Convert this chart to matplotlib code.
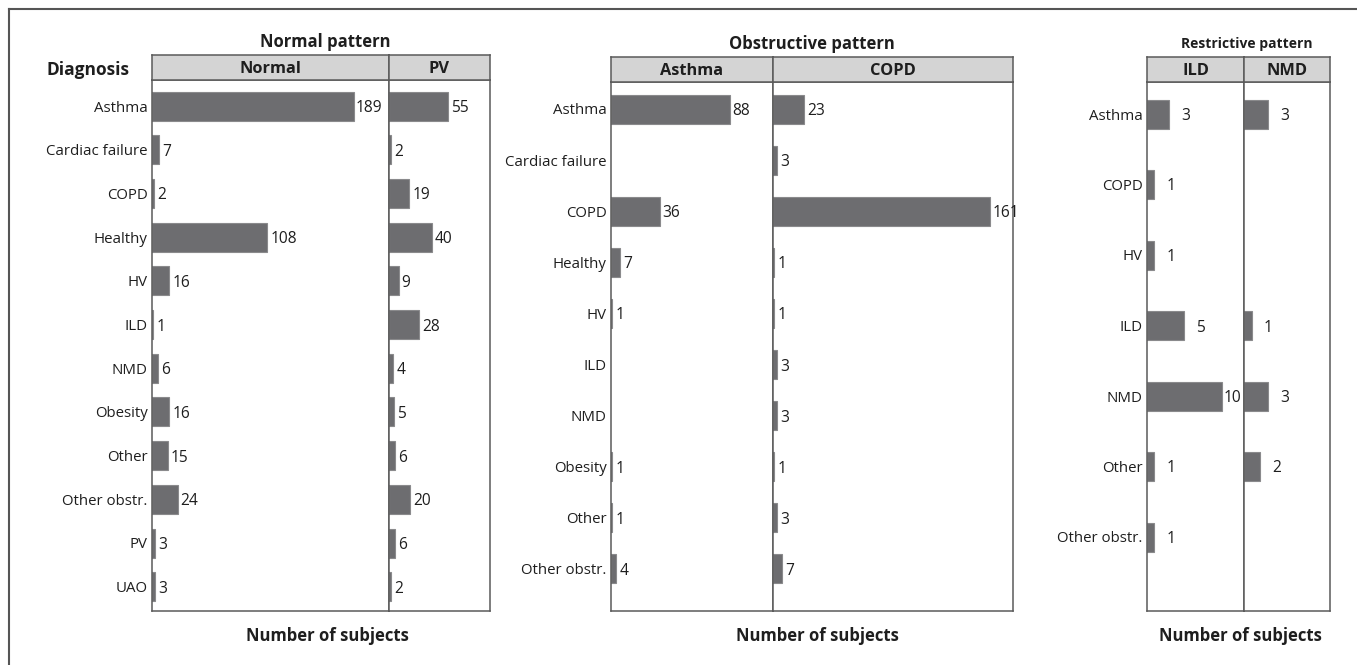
import numpy as np
import matplotlib
matplotlib.use("Agg")
import matplotlib.pyplot as plt

plt.rcParams['font.family'] = ['Open Sans', 'DejaVu Sans']

# Normal pattern
normal_cats = ["Asthma", "Cardiac failure", "COPD", "Healthy", "HV", "ILD", "NMD",
               "Obesity", "Other", "Other obstr.", "PV", "UAO"]
normal_vals = [189, 7, 2, 108, 16, 1, 6, 16, 15, 24, 3, 3]
pv_vals = [55, 2, 19, 40, 9, 28, 4, 5, 6, 20, 6, 2]

# Obstructive pattern (nan = no bar)
obstr_cats = ["Asthma", "Cardiac failure", "COPD", "Healthy", "HV", "ILD", "NMD",
              "Obesity", "Other", "Other obstr."]
asthma_vals = [88, np.nan, 36, 7, 1, np.nan, np.nan, 1, 1, 4]
copd_vals = [23, 3, 161, 1, 1, 3, 3, 1, 3, 7]

# Restrictive pattern
restr_cats = ["Asthma", "COPD", "HV", "ILD", "NMD", "Other", "Other obstr."]
ild_vals = [3, 1, 1, 5, 10, 1, 1]
nmd_vals = [3, np.nan, np.nan, 1, 3, 2, np.nan]

W, H = 1357, 665
BAR = "#6d6d70"
EDGE = "#8a8a8c"
LINE = "#5a5a5a"
HEAD = "#d4d4d4"
TXT = "#1e1e1e"

fig = plt.figure(figsize=(W / 100, H / 100), dpi=100)


def box(x0, x1, y0, y1):
    # pixel coords -> figure fraction rect
    return [x0 / W, 1 - y1 / H, (x1 - x0) / W, (y1 - y0) / H]


def panel(cats, series, strips, xs, xlims, head_y, plot_y, row0, rowstep,
          off_small, title, title_size, title_x, xlab_x):
    n = len(cats)
    top = (row0 - plot_y[0]) / rowstep
    bot = (plot_y[1] - plot_y[0]) / rowstep - top
    height = 29.0 / rowstep
    for i, (vals, strip, xl) in enumerate(zip(series, strips, xlims)):
        ax = fig.add_axes(box(xs[i], xs[i + 1], plot_y[0], plot_y[1]))
        y = np.arange(n)
        v = np.array(vals, dtype=float)
        ok = ~np.isnan(v)
        ax.barh(y[ok], v[ok], height=height, color=BAR, edgecolor=EDGE,
                linewidth=0.8, align="center")
        ax.set_xlim(0, xl)
        ax.set_ylim(bot, -top)
        for yy, vv in zip(y[ok], v[ok]):
            off = off_small if vv < 0.7 * xl else 1.5
            ax.annotate("%d" % vv, (vv, yy), xytext=(off, 0),
                        textcoords="offset points", va="center_baseline",
                        ha="left", fontsize=11.2, color=TXT)
        ax.set_xticks([])
        if i == 0:
            ax.set_yticks(y)
            ax.set_yticklabels(cats, fontsize=10.8, color=TXT,
                               va="center_baseline")
            ax.tick_params(axis="y", length=0, pad=3)
        else:
            ax.set_yticks([])
        for s in ax.spines.values():
            s.set_color(LINE)
            s.set_linewidth(1.1)
        hx = fig.add_axes(box(xs[i], xs[i + 1], head_y[0], head_y[1]))
        hx.set_facecolor(HEAD)
        hx.set_xticks([])
        hx.set_yticks([])
        for s in hx.spines.values():
            s.set_color(LINE)
            s.set_linewidth(1.1)
        hx.text(0.5, 0.45, strip, ha="center", va="center", fontsize=11.8,
                fontweight="bold", color=TXT, transform=hx.transAxes)
    fig.text(title_x / W, 1 - (head_y[0] - 13) / H, title, ha="center",
             va="center", fontsize=title_size, fontweight="bold", color=TXT)
    fig.text(xlab_x / W, 1 - 636 / H, "Number of subjects", ha="center",
             va="center", fontsize=12, fontweight="bold", color=TXT)


panel(normal_cats, [normal_vals, pv_vals], ["Normal", "PV"],
      [152, 389, 490], [222, 94], (55, 80), (80, 611), 106, 43.7, 2.2,
      "Normal pattern", 12, 325, 327)
panel(obstr_cats, [asthma_vals, copd_vals], ["Asthma", "COPD"],
      [611, 773, 1013], [120, 178], (57, 82), (82, 611), 109, 51.1, 2.2,
      "Obstructive pattern", 12, 812, 817)
panel(restr_cats, [ild_vals, nmd_vals], ["ILD", "NMD"],
      [1147, 1244, 1330], [13.0, 10.6], (57, 82), (82, 611), 114, 70.5, 8.5,
      "Restrictive pattern", 10, 1247, 1240)

fig.text(47 / W, 1 - 70 / H, "Diagnosis", ha="left", va="center",
         fontsize=12.5, fontweight="bold", color=TXT)

# outer frame (top and left)
fig.add_artist(plt.Line2D([9 / W, 9 / W], [0, 1 - 9 / H], color="#555555",
                          linewidth=1.5, transform=fig.transFigure))
fig.add_artist(plt.Line2D([9 / W, 1], [1 - 9 / H, 1 - 9 / H], color="#555555",
                          linewidth=1.5, transform=fig.transFigure))

fig.savefig("out.png", dpi=100, facecolor="white")
